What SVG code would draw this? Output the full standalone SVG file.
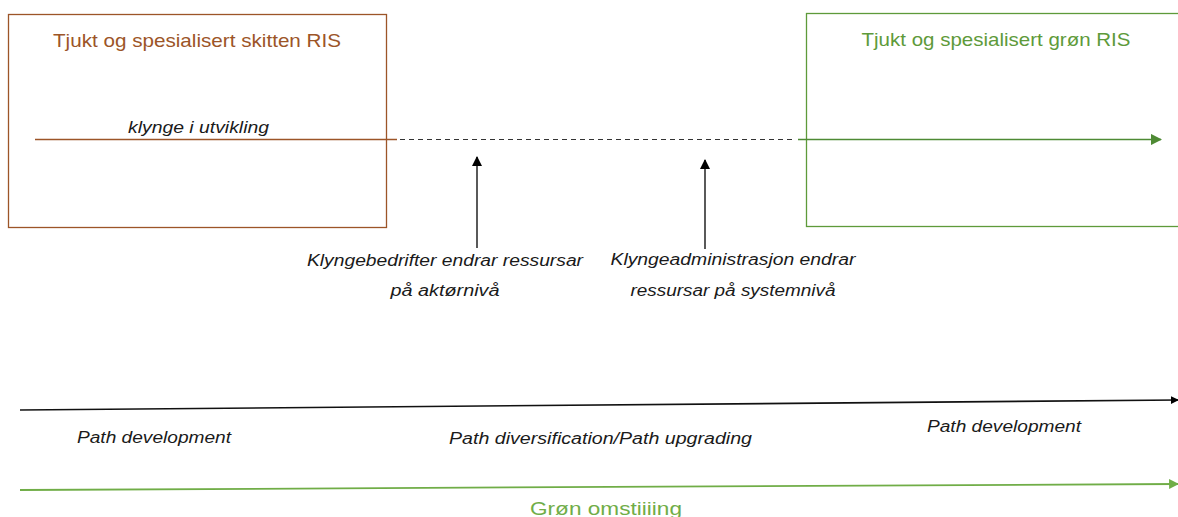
<svg xmlns="http://www.w3.org/2000/svg" width="1178" height="517" viewBox="0 0 1178 517">
  <style>
    .title { font-family: "Liberation Sans", "Open Sans", sans-serif; font-size: 19px; }
    .lbl { font-family: "Liberation Sans", "Open Sans", sans-serif; font-size: 16px; font-style: italic; fill: #1a1a1a; }
    .brown { fill: #9C5528; }
    .green { fill: #5E9A3A; }
  </style>
  <defs>
    <marker id="ahBlack" viewBox="0 0 10 10" refX="9" refY="5" markerWidth="5" markerHeight="5" orient="auto" markerUnits="strokeWidth">
      <path d="M0,0 L10,5 L0,10 z" fill="#000"/>
    </marker>
    <marker id="ahUp" viewBox="0 0 10 10" refX="9" refY="5" markerWidth="8" markerHeight="8" orient="auto" markerUnits="strokeWidth">
      <path d="M0,0 L10,5 L0,10 z" fill="#000"/>
    </marker>
    <marker id="ahGreen" viewBox="0 0 10 10" refX="9" refY="5" markerWidth="7" markerHeight="7" orient="auto" markerUnits="strokeWidth">
      <path d="M0,0 L10,5 L0,10 z" fill="#4E8A34"/>
    </marker>
    <marker id="ahLight" viewBox="0 0 10 10" refX="9" refY="5" markerWidth="5.5" markerHeight="5.5" orient="auto" markerUnits="strokeWidth">
      <path d="M0,0 L10,5 L0,10 z" fill="#70AD47"/>
    </marker>
  </defs>

  <!-- left system box -->
  <g id="box-dirty">
    <rect x="8.5" y="14.5" width="378" height="213" fill="none" stroke="#9C5528" stroke-width="1.3"/>
    <text class="title brown" x="197" y="47" text-anchor="middle" textLength="288" lengthAdjust="spacingAndGlyphs">Tjukt og spesialisert skitten RIS</text>
    <text class="lbl" x="128" y="133" textLength="141" lengthAdjust="spacingAndGlyphs">klynge i utvikling</text>
  </g>

  <!-- right system box -->
  <g id="box-green">
    <rect x="806.5" y="13.5" width="380" height="213" fill="none" stroke="#5E9A3A" stroke-width="1.3"/>
    <text class="title green" x="996" y="46" text-anchor="middle" textLength="269" lengthAdjust="spacingAndGlyphs">Tjukt og spesialisert grøn RIS</text>
  </g>

  <!-- actor-level change -->
  <g id="note-actor">
    <text class="lbl" x="445" y="266" text-anchor="middle" textLength="276" lengthAdjust="spacingAndGlyphs">Klyngebedrifter endrar ressursar</text>
    <text class="lbl" x="445" y="296" text-anchor="middle" textLength="109" lengthAdjust="spacingAndGlyphs">på aktørnivå</text>
  </g>

  <!-- system-level change -->
  <g id="note-system">
    <text class="lbl" x="733" y="265" text-anchor="middle" textLength="245" lengthAdjust="spacingAndGlyphs">Klyngeadministrasjon endrar</text>
    <text class="lbl" x="733" y="296" text-anchor="middle" textLength="205" lengthAdjust="spacingAndGlyphs">ressursar på systemnivå</text>
  </g>

  <!-- timeline phases -->
  <g id="phase-labels">
    <text class="lbl" x="77" y="443" textLength="154" lengthAdjust="spacingAndGlyphs">Path development</text>
    <text class="lbl" x="449" y="444" textLength="303" lengthAdjust="spacingAndGlyphs">Path diversification/Path upgrading</text>
    <text class="lbl" x="927" y="432" textLength="154" lengthAdjust="spacingAndGlyphs">Path development</text>
  </g>

  <g id="transition-label">
    <text class="title" x="606" y="515" text-anchor="middle" fill="#70AD47" textLength="152" lengthAdjust="spacingAndGlyphs">Grøn omstiiiing</text>
  </g>

  <!-- connectors -->
  <g id="connectors" fill="none">
    <line x1="35" y1="139.5" x2="397" y2="139.5" stroke="#9C5528" stroke-width="1.3"/>
    <line x1="400" y1="139.5" x2="796" y2="139.5" stroke="#333" stroke-width="1" stroke-dasharray="5,4"/>
    <line x1="798" y1="139.5" x2="1161" y2="139.5" stroke="#4E8A34" stroke-width="1.6" marker-end="url(#ahGreen)"/>
    <line x1="477" y1="248" x2="477" y2="157" stroke="#000" stroke-width="1.3" marker-end="url(#ahUp)"/>
    <line x1="705" y1="249" x2="705" y2="160" stroke="#000" stroke-width="1.3" marker-end="url(#ahUp)"/>
    <line x1="20" y1="410" x2="1178" y2="400" stroke="#111" stroke-width="1.6" marker-end="url(#ahBlack)"/>
    <line x1="20" y1="490" x2="1178" y2="484" stroke="#70AD47" stroke-width="1.8" marker-end="url(#ahLight)"/>
  </g>
</svg>
